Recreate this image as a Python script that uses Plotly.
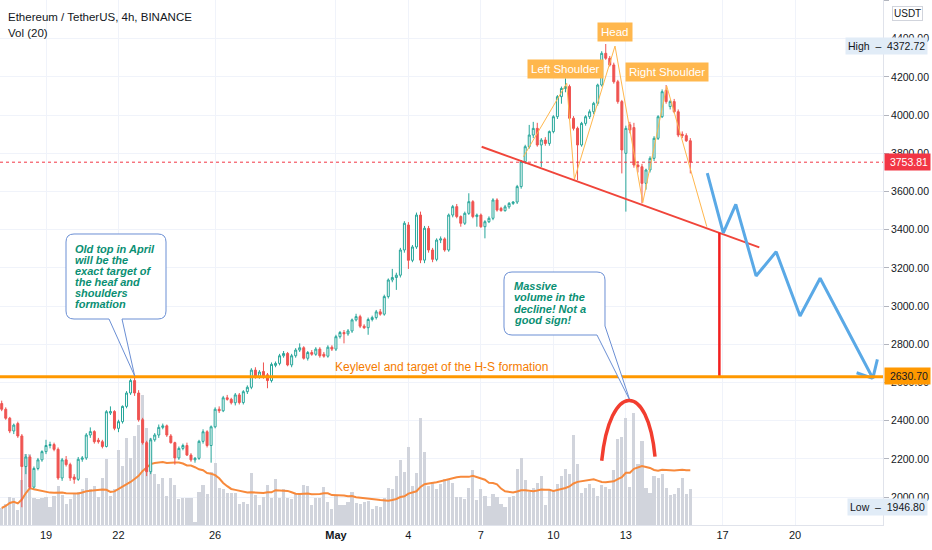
import pandas as pd
import plotly.graph_objects as go

# ETH/USDT 4h candles (Binance), first candle Apr 17 04:00
opens = [2490, 2460, 2413, 2346, 2385, 2320, 2160, 2210, 2052, 2150,
         2195, 2238, 2270, 2275, 2250, 2100, 2195, 2170, 2105, 2093,
         2198, 2205, 2325, 2343, 2298, 2290, 2265, 2440, 2448, 2360,
         2395, 2475, 2545, 2610, 2545, 2405, 2285, 2133, 2300, 2325,
         2365, 2373, 2320, 2285, 2205, 2255, 2270, 2220, 2195, 2203,
         2292, 2342, 2270, 2368, 2460, 2452, 2520, 2512, 2494, 2535,
         2495, 2552, 2575, 2665, 2630, 2658, 2640, 2610, 2690, 2700,
         2740, 2752, 2692, 2740, 2770, 2782, 2727, 2757, 2748, 2775,
         2748, 2738, 2785, 2775, 2840, 2862, 2855, 2870, 2928, 2945,
         2895, 2887, 2930, 2940, 2970, 2958, 3050, 3137, 3150, 3162,
         3294, 3425, 3240, 3310, 3477, 3241, 3407, 3294, 3245, 3346,
         3352, 3294, 3477, 3521, 3469, 3434, 3486, 3547, 3469, 3477,
         3416, 3442, 3460, 3556, 3512, 3500, 3520, 3538, 3545, 3626,
         3757, 3835, 3896, 3931, 3844, 3870, 3852, 3914, 3992, 4097,
         4140, 4150, 3984, 3931, 3844, 3957, 3992, 4018, 4062, 4158,
         4324, 4298, 4263, 4175, 4071, 3800, 3950, 3935, 3739, 3730,
         3643, 3713, 3774, 3879, 3992, 4130, 4045, 4071, 4018, 3900, 3893, 3866]
highs = [2505, 2470, 2420, 2385, 2395, 2330, 2225, 2220, 2160, 2205,
         2245, 2300, 2290, 2285, 2260, 2205, 2215, 2180, 2120, 2210,
         2215, 2335, 2365, 2350, 2310, 2300, 2455, 2475, 2455, 2405,
         2480, 2555, 2620, 2637, 2560, 2415, 2295, 2310, 2335, 2380,
         2385, 2380, 2330, 2290, 2265, 2280, 2285, 2230, 2210, 2300,
         2355, 2350, 2375, 2470, 2475, 2530, 2535, 2520, 2545, 2545,
         2560, 2585, 2675, 2680, 2665, 2705, 2650, 2705, 2710, 2750,
         2765, 2760, 2750, 2780, 2805, 2790, 2765, 2770, 2785, 2785,
         2760, 2795, 2795, 2850, 2870, 2875, 2880, 2935, 2960, 2955,
         2905, 2940, 2950, 2980, 2985, 3060, 3145, 3195, 3175, 3305,
         3445, 3440, 3320, 3490, 3495, 3420, 3420, 3305, 3355, 3365,
         3360, 3485, 3530, 3535, 3475, 3495, 3591, 3555, 3485, 3485,
         3450, 3470, 3565, 3565, 3520, 3530, 3545, 3550, 3635, 3765,
         3845, 3949, 3965, 3960, 3880, 3885, 3920, 4000, 4105, 4150,
         4193, 4160, 3995, 3940, 3965, 4000, 4030, 4070, 4165, 4335,
         4372.72, 4310, 4275, 4185, 4080, 3945, 3965, 3960, 3760, 3745,
         3720, 3785, 3890, 4000, 4135, 4158, 4080, 4085, 4030, 3915, 3905, 3880]
lows = [2450, 2405, 2335, 2330, 2310, 1946.8, 2120, 2040, 2045, 2140,
        2185, 2225, 2255, 2240, 2090, 2085, 2160, 2085, 2070, 2085,
        2185, 2195, 2310, 2280, 2280, 2255, 2260, 2430, 2350, 2340,
        2385, 2465, 2535, 2530, 2395, 2275, 2110, 2120, 2290, 2310,
        2355, 2315, 2280, 2170, 2195, 2245, 2215, 2185, 2180, 2195,
        2280, 2260, 2180, 2360, 2440, 2445, 2505, 2485, 2480, 2485,
        2485, 2540, 2565, 2620, 2620, 2620, 2570, 2600, 2680, 2690,
        2730, 2685, 2680, 2730, 2760, 2720, 2715, 2740, 2740, 2730,
        2730, 2730, 2765, 2765, 2830, 2805, 2845, 2860, 2920, 2885,
        2880, 2850, 2920, 2930, 2950, 2950, 3040, 3125, 3085, 3150,
        3280, 3195, 3230, 3300, 3225, 3225, 3280, 3230, 3235, 3330,
        3285, 3285, 3465, 3460, 3416, 3425, 3478, 3460, 3416, 3410,
        3355, 3435, 3450, 3495, 3495, 3495, 3510, 3530, 3535, 3615,
        3745, 3825, 3880, 3835, 3729, 3840, 3840, 3905, 3980, 4060,
        4120, 3975, 3920, 3660, 3835, 3945, 3980, 4005, 4050, 4150,
        4290, 4255, 4165, 4060, 3695, 3495, 3905, 3725, 3700, 3538,
        3610, 3700, 3760, 3870, 3985, 4060, 4030, 4010, 3885, 3880, 3860, 3695]
closes = [2460, 2413, 2346, 2377, 2320, 2160, 2210, 2052, 2150, 2195,
          2238, 2270, 2275, 2250, 2100, 2195, 2170, 2100, 2093, 2198,
          2205, 2325, 2343, 2290, 2290, 2265, 2447, 2448, 2360, 2395,
          2475, 2545, 2610, 2545, 2405, 2285, 2133, 2300, 2325, 2365,
          2373, 2325, 2285, 2205, 2255, 2270, 2220, 2195, 2203, 2292,
          2342, 2270, 2368, 2460, 2452, 2520, 2512, 2494, 2535, 2495,
          2552, 2575, 2665, 2630, 2655, 2630, 2610, 2695, 2700, 2740,
          2752, 2692, 2740, 2770, 2782, 2727, 2757, 2748, 2775, 2740,
          2738, 2785, 2775, 2840, 2862, 2855, 2870, 2928, 2945, 2895,
          2887, 2930, 2940, 2970, 2958, 3050, 3137, 3150, 3162, 3294,
          3434, 3240, 3310, 3477, 3241, 3408, 3294, 3245, 3346, 3352,
          3294, 3477, 3521, 3469, 3434, 3486, 3547, 3469, 3477, 3416,
          3442, 3460, 3556, 3503, 3500, 3520, 3538, 3545, 3626, 3757,
          3835, 3896, 3931, 3844, 3870, 3852, 3914, 3992, 4097, 4140,
          4150, 3984, 3931, 3844, 3957, 3992, 4018, 4062, 4158, 4324,
          4298, 4263, 4175, 4071, 3818, 3931, 3922, 3739, 3730, 3643,
          3713, 3774, 3879, 3992, 4123, 4071, 4071, 4018, 3896, 3893, 3866, 3753.81]
# volume, thousand ETH
volumes = [51, 63, 84, 81, 45, 135, 213, 213, 81, 78,
           81, 84, 54, 87, 117, 90, 63, 78, 93, 99,
           108, 141, 108, 117, 84, 141, 198, 87, 108, 225,
           177, 261, 201, 267, 300, 390, 291, 261, 153, 123,
           141, 87, 141, 120, 78, 81, 81, 81, 9, 99,
           120, 93, 159, 186, 111, 108, 96, 96, 96, 63,
           69, 63, 156, 90, 60, 84, 120, 81, 138, 81,
           108, 81, 78, 93, 93, 120, 117, 60, 81, 81,
           114, 69, 48, 87, 60, 60, 69, 99, 66, 63,
           69, 72, 48, 57, 54, 81, 111, 108, 147, 195,
           159, 234, 117, 156, 321, 219, 117, 126, 108, 123,
           138, 138, 126, 84, 84, 78, 111, 165, 75, 108,
           87, 57, 93, 84, 63, 54, 84, 87, 168, 201,
           135, 99, 111, 126, 147, 60, 108, 102, 123, 147,
           168, 153, 270, 183, 96, 111, 123, 111, 87, 120,
           114, 108, 165, 258, 264, 321, 114, 336, 183, 252,
           111, 96, 147, 141, 153, 111, 90, 93, 111, 141, 93, 108]

x_ticks = ["2021-04-19", "2021-04-22", "2021-04-26", "2021-05-01", "2021-05-04",
           "2021-05-07", "2021-05-10", "2021-05-13", "2021-05-17", "2021-05-20"]
x_labels = ["19", "22", "26", "<b>May</b>", "4", "7", "10", "13", "17", "20"]

key_level = 2630.70
last_price = 3753.81

# drawings on the chart
hs_times = ["2021-05-08 18:14", "2021-05-10 13:13", "2021-05-10 20:50", "2021-05-12 13:12",
            "2021-05-13 16:48", "2021-05-14 16:34", "2021-05-16 08:24"]
hs_prices = [3782, 4167, 3664, 4362, 3542, 4153, 3416]
neck_times = ["2021-05-07 00:43", "2021-05-18 12:33"]
neck_prices = [3835, 3308]
proj_times = ["2021-05-16 08:53", "2021-05-17 00:45", "2021-05-17 13:12", "2021-05-18 09:21",
              "2021-05-19 05:17", "2021-05-20 05:02", "2021-05-21 00:58", "2021-05-23 05:17",
              "2021-05-23 09:50", None, "2021-05-22 13:12", "2021-05-23 05:17"]
proj_prices = [3696, 3384, 3533, 3158, 3285, 2948, 3146, 2622, 2721, None, 2651, 2622]
target_time = "2021-05-16 20:53"
target_top = 3384

times = pd.date_range("2021-04-17 04:00", periods=len(closes), freq="4h")
vol_ma = pd.Series(volumes).rolling(20, min_periods=1).mean()

W, H = 883, 525  # plot area size in px


def px(x, y):
    return x / W, 1 - y / H


def svg(cmds, close=True):
    out = []
    for c in cmds:
        pts = c[1:]
        xy = []
        for i in range(0, len(pts), 2):
            a, b = px(pts[i], pts[i + 1])
            xy.append(f"{a:.5f},{b:.5f}")
        out.append(c[0] + " " + " ".join(xy))
    return " ".join(out) + (" Z" if close else "")


def note(x, y, text, **kw):
    a, b = px(x, y)
    d = dict(xref="paper", yref="paper", x=a, y=b, text=text, showarrow=False,
             xanchor="center", yanchor="middle")
    d.update(kw)
    return d


teal = "#26a69a"
red = "#ef5350"
ink = "#131722"

fig = go.Figure()
fig.add_trace(go.Bar(x=times, y=volumes, width=4 * 3600 * 1000 * 0.78,
                     marker=dict(color="#d1d4dc", line=dict(width=0)), yaxis="y"))
fig.add_trace(go.Scatter(x=times, y=vol_ma, mode="lines", yaxis="y",
                         line=dict(color="#f7893b", width=2)))
fig.add_trace(go.Candlestick(x=times, open=opens, high=highs, low=lows, close=closes, yaxis="y2",
                             increasing=dict(line=dict(color=teal, width=1), fillcolor="#ffffff"),
                             decreasing=dict(line=dict(color=red, width=1), fillcolor=red)))
fig.add_trace(go.Scatter(x=hs_times, y=hs_prices, mode="lines", yaxis="y2",
                         line=dict(color="#ffb74d", width=1)))
fig.add_trace(go.Scatter(x=neck_times, y=neck_prices, mode="lines", yaxis="y2",
                         line=dict(color="#f0453a", width=2)))
fig.add_trace(go.Scatter(x=[target_time, target_time], y=[target_top, key_level], mode="lines",
                         yaxis="y2", line=dict(color="#f21f1f", width=2.5)))
fig.add_trace(go.Scatter(x=proj_times, y=proj_prices, mode="lines", yaxis="y2",
                         line=dict(color="#5aa9e6", width=3)))

shapes = [
    dict(type="line", xref="paper", x0=0, x1=1, yref="y2", y0=key_level, y1=key_level,
         line=dict(color="#ff9800", width=3)),
    dict(type="line", xref="paper", x0=0, x1=1, yref="y2", y0=last_price, y1=last_price,
         line=dict(color="#f23645", width=1, dash="dot")),
    dict(type="path", xref="paper", yref="paper", fillcolor="white",
         line=dict(color="#6b8fd4", width=1),
         path=svg([("M", 74, 234), ("L", 158, 234), ("Q", 166, 234, 166, 242), ("L", 166, 311),
                   ("Q", 166, 319, 158, 319), ("L", 122, 319), ("L", 134.7, 376), ("L", 109, 319),
                   ("L", 74, 319), ("Q", 66, 319, 66, 311), ("L", 66, 242), ("Q", 66, 234, 74, 234)])),
    dict(type="path", xref="paper", yref="paper", fillcolor="white",
         line=dict(color="#6b8fd4", width=1),
         path=svg([("M", 512, 272), ("L", 597, 272), ("Q", 605, 272, 605, 280), ("L", 605, 326),
                   ("L", 630, 400.7), ("L", 597, 335), ("L", 512, 335), ("Q", 504, 335, 504, 327),
                   ("L", 504, 280), ("Q", 504, 272, 512, 272)])),
    dict(type="path", xref="paper", yref="paper",
         line=dict(color="#f23d2f", width=3.5),
         path=svg([("M", 601.7, 460.7), ("C", 610, 381, 648, 381, 655, 456.7)], close=False)),
]

callout_font = dict(family="Liberation Sans", size=11, color="#0a8f73")
label_font = dict(family="Liberation Sans", size=11.5, color="white")
annotations = [
    note(6, 17, "Ethereum / TetherUS, 4h, BINANCE", xanchor="left",
         font=dict(family="Liberation Sans", size=11.5, color=ink)),
    note(6, 33, "Vol (20)", xanchor="left", font=dict(family="Liberation Sans", size=11.5, color=ink)),
    note(441, 367, "Keylevel and target of the H-S formation",
         font=dict(family="Liberation Sans", size=12, color="#f57c00")),
    note(565.5, 69, "Left Shoulder", bgcolor="#ffb74d", borderpad=3, font=label_font),
    note(614.5, 32, "Head", bgcolor="#ffb74d", borderpad=3, font=label_font),
    note(666.5, 72, "Right Shoulder", bgcolor="#ffb74d", borderpad=3, font=label_font),
    note(928, 46, "High  –  4372.72", xanchor="right", bgcolor="#e1ecf7", borderpad=2,
         font=dict(family="Liberation Sans", size=10.5, color=ink)),
    note(928, 507, "Low  –  1946.80", xanchor="right", bgcolor="#e1ecf7", borderpad=2,
         font=dict(family="Liberation Sans", size=10.5, color=ink)),
    note(884, 162, "3753.81", xanchor="left", width=41, align="right", bgcolor="#f23645", borderpad=2,
         font=dict(family="Liberation Sans", size=10.5, color="white")),
    note(884, 376, "2630.70", xanchor="left", width=41, align="right", bgcolor="#ff9800", borderpad=2,
         font=dict(family="Liberation Sans", size=10.5, color=ink)),
    note(907, 14, "USDT", bgcolor="white", bordercolor="#d1d4dc", borderwidth=1, borderpad=1,
         font=dict(family="Liberation Sans", size=10, color=ink)),
]
lines1 = ["Old top in April", "will be the", "exact target of", "the heaf and", "shoulders", "formation"]
for k, t in enumerate(lines1):
    annotations.append(note(73, 249.3 + 11.0 * k, "<b><i>" + t + "</i></b>", xanchor="left",
                            font=callout_font))
lines2 = ["Massive", "volume in the", "decline! Not a", "good sign!"]
for k, t in enumerate(lines2):
    annotations.append(note(512, 286 + 11.3 * k, "<b><i>" + t + "</i></b>", xanchor="left",
                            font=callout_font))

fig.update_layout(
    width=932, height=550,
    margin=dict(l=0, r=49, t=0, b=25),
    paper_bgcolor="white", plot_bgcolor="white",
    showlegend=False,
    font=dict(family="Liberation Sans", color=ink),
    xaxis=dict(type="date", range=["2021-04-17 02:18", "2021-05-23 15:25"],
               tickvals=x_ticks, ticktext=x_labels, tickfont=dict(size=11, color=ink),
               showgrid=True, gridcolor="#f0f3fa", showline=True, linecolor="#e0e3eb",
               rangeslider=dict(visible=False), ticks="", automargin=False),
    yaxis=dict(range=[0, 1575], visible=False, fixedrange=True),
    yaxis2=dict(overlaying="y", side="right", range=[1853.8, 4603.2], tick0=0, dtick=200,
                tickformat=".2f", tickfont=dict(size=10.5, color=ink), showgrid=True,
                gridcolor="#f0f3fa", zeroline=False, showline=True, linecolor="#e0e3eb",
                ticks="outside", ticklen=5, tickcolor="#b2b5be", automargin=False),
    shapes=shapes,
    annotations=annotations,
    bargap=0,
)

# the page's default 8px body margin would shift the figure off the window
fig.write_html("out.html", config={"displayModeBar": False},
               post_script="document.body.style.margin='0px';")
